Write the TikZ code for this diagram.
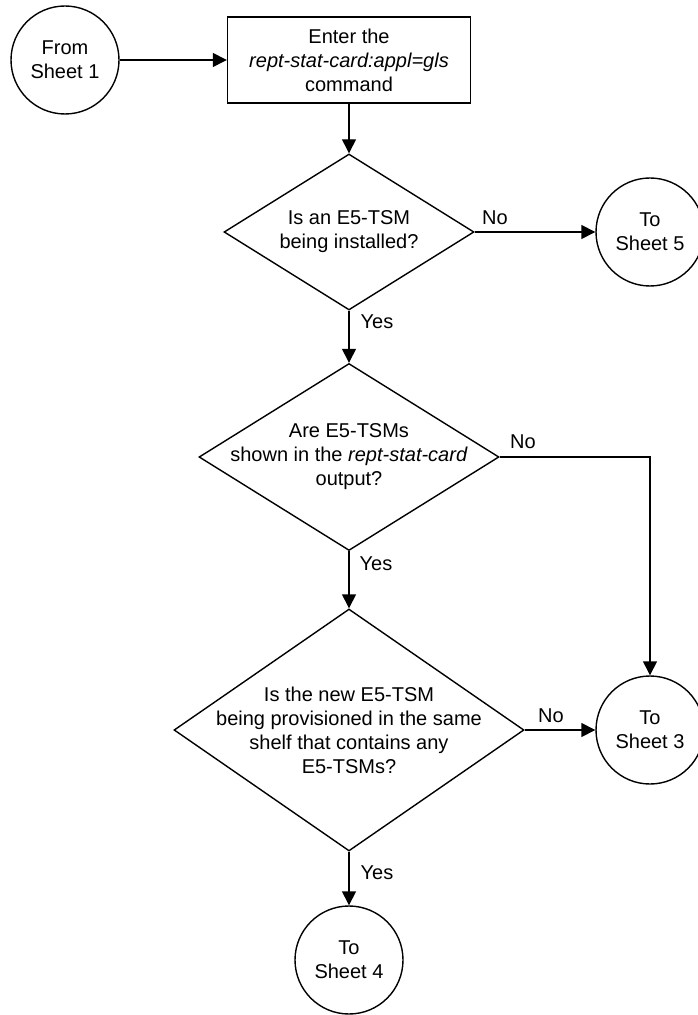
\documentclass[tikz,border=0pt]{standalone}
\usepackage{fontspec}
\setmainfont{Liberation Sans}
\usetikzlibrary{shapes.geometric,arrows.meta}
\tikzset{>={Triangle[length=7pt,width=7pt]}}
\tikzset{
  sheet/.style={circle,draw,minimum size=54pt,inner sep=0pt,align=center},
  command/.style={rectangle,draw,minimum width=121.5pt,minimum height=43pt,align=center},
  decision/.style={diamond,draw,inner sep=0pt},
  question/.style={align=center,inner sep=0pt},
  answer/.style={inner sep=0pt}
}

\begin{document}
\begin{tikzpicture}[x=0.5pt,y=-0.5pt,line width=0.7pt,font=\fontsize{10}{12}\selectfont]
  \useasboundingbox (0,0) rectangle (697,1015);
  % sheets
  \node[sheet] (from1) at (65,60) {From\\Sheet 1};
  \node[sheet] (sheet5) at (650,232) {To\\Sheet 5};
  \node[sheet] (sheet3) at (650,730) {To\\Sheet 3};
  \node[sheet] (sheet4) at (349,960) {To\\Sheet 4};
  % command box
  \node[command] (enter) at (349,60) {Enter the\\\textit{rept-stat-card:appl=gls}\\command};
  % decisions
  \node[decision,minimum width=125pt,minimum height=78pt] (q1) at (349,232) {};
  \node[question] (q1t) at (q1) {Is an E5-TSM\\being installed?};
  \node[decision,minimum width=150pt,minimum height=93.5pt] (q2) at (349,457) {};
  \node[question] (q2t) at (q2) {Are E5-TSMs\\shown in the \textit{rept-stat-card}\\output?};
  \node[decision,minimum width=175pt,minimum height=121pt] (q3) at (349,730) {};
  \node[question] (q3t) at (q3) {Is the new E5-TSM\\being provisioned in the same\\shelf that contains any\\E5-TSMs?};
  % arrows
  \draw[->] (from1) -- (enter);
  \draw[->] (enter) -- (q1);
  \draw[->] (q1.east) -- (sheet5);
  \draw[->] (q1.south) -- (q2.north);
  \draw[->] (q2.east) -| (sheet3.north);
  \draw[->] (q2.south) -- (q3.north);
  \draw[->] (q3.east) -- (sheet3.west);
  \draw[->] (q3.south) -- (sheet4.north);
  % answers
  \node[answer] (no1) at (495,218) {No};
  \node[answer] (yes1) at (377,322) {Yes};
  \node[answer] (no2) at (523,442) {No};
  \node[answer] (yes2) at (376,564) {Yes};
  \node[answer] (no3) at (551,716) {No};
  \node[answer] (yes3) at (377,873) {Yes};
\end{tikzpicture}
\end{document}
